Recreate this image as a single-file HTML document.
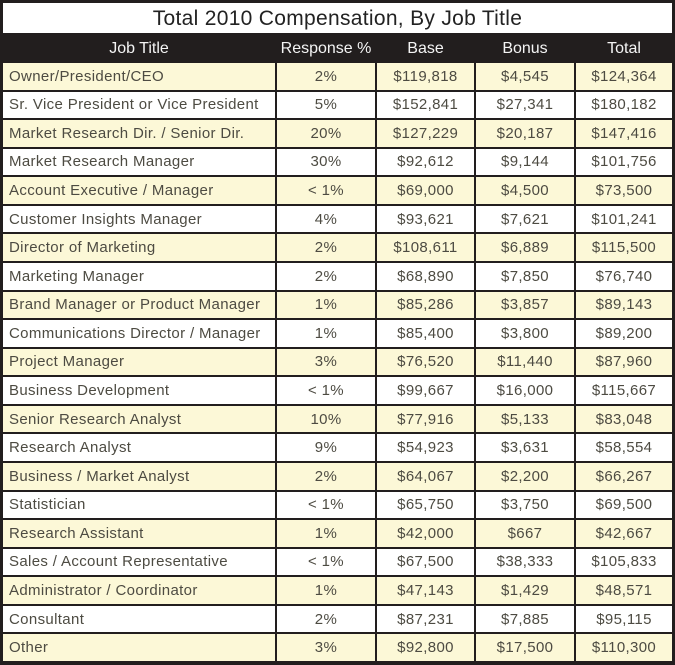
<!DOCTYPE html>
<html>
<head>
<meta charset="utf-8">
<style>
html,body{margin:0;padding:0;}
body{width:675px;height:665px;overflow:hidden;background:#fff;font-family:"Liberation Sans",sans-serif;}
#wrap{position:absolute;left:0;top:0;width:675px;height:665px;background:#221e1e;}
#title{position:absolute;left:3px;top:3px;width:669px;height:30px;background:#fff;text-align:center;font-size:21px;line-height:32px;color:#222;letter-spacing:0.3px;}
#hdr{position:absolute;left:3px;top:33px;width:669px;height:30px;display:grid;grid-template-columns:272px 98px 97px 98px 96px;column-gap:2px;color:#f4f4f4;font-size:16px;line-height:31px;text-align:center;}
#body{position:absolute;left:3px;top:63px;width:669px;height:598px;display:grid;grid-template-columns:272px 98px 97px 98px 96px;grid-template-rows:repeat(21,1fr);column-gap:2px;row-gap:2px;}
#body div{background:#fff;color:#4d4b42;font-size:15px;letter-spacing:0.35px;display:flex;align-items:center;justify-content:center;}
#body div.t{justify-content:flex-start;padding-left:6px;}
#body div.y{background:#fcf8d7;}
</style>
</head>
<body>
<div id="wrap">
<div id="title">Total 2010 Compensation, By Job Title</div>
<div id="hdr"><div>Job Title</div><div>Response %</div><div>Base</div><div>Bonus</div><div>Total</div></div>
<div id="body">
<div class="t y">Owner/President/CEO</div><div class="y">2%</div><div class="y">$119,818</div><div class="y">$4,545</div><div class="y">$124,364</div>
<div class="t">Sr. Vice President or Vice President</div><div>5%</div><div>$152,841</div><div>$27,341</div><div>$180,182</div>
<div class="t y">Market Research Dir. / Senior Dir.</div><div class="y">20%</div><div class="y">$127,229</div><div class="y">$20,187</div><div class="y">$147,416</div>
<div class="t">Market Research Manager</div><div>30%</div><div>$92,612</div><div>$9,144</div><div>$101,756</div>
<div class="t y">Account Executive / Manager</div><div class="y">&lt; 1%</div><div class="y">$69,000</div><div class="y">$4,500</div><div class="y">$73,500</div>
<div class="t">Customer Insights Manager</div><div>4%</div><div>$93,621</div><div>$7,621</div><div>$101,241</div>
<div class="t y">Director of Marketing</div><div class="y">2%</div><div class="y">$108,611</div><div class="y">$6,889</div><div class="y">$115,500</div>
<div class="t">Marketing Manager</div><div>2%</div><div>$68,890</div><div>$7,850</div><div>$76,740</div>
<div class="t y">Brand Manager or Product Manager</div><div class="y">1%</div><div class="y">$85,286</div><div class="y">$3,857</div><div class="y">$89,143</div>
<div class="t">Communications Director / Manager</div><div>1%</div><div>$85,400</div><div>$3,800</div><div>$89,200</div>
<div class="t y">Project Manager</div><div class="y">3%</div><div class="y">$76,520</div><div class="y">$11,440</div><div class="y">$87,960</div>
<div class="t">Business Development</div><div>&lt; 1%</div><div>$99,667</div><div>$16,000</div><div>$115,667</div>
<div class="t y">Senior Research Analyst</div><div class="y">10%</div><div class="y">$77,916</div><div class="y">$5,133</div><div class="y">$83,048</div>
<div class="t">Research Analyst</div><div>9%</div><div>$54,923</div><div>$3,631</div><div>$58,554</div>
<div class="t y">Business / Market Analyst</div><div class="y">2%</div><div class="y">$64,067</div><div class="y">$2,200</div><div class="y">$66,267</div>
<div class="t">Statistician</div><div>&lt; 1%</div><div>$65,750</div><div>$3,750</div><div>$69,500</div>
<div class="t y">Research Assistant</div><div class="y">1%</div><div class="y">$42,000</div><div class="y">$667</div><div class="y">$42,667</div>
<div class="t">Sales / Account Representative</div><div>&lt; 1%</div><div>$67,500</div><div>$38,333</div><div>$105,833</div>
<div class="t y">Administrator / Coordinator</div><div class="y">1%</div><div class="y">$47,143</div><div class="y">$1,429</div><div class="y">$48,571</div>
<div class="t">Consultant</div><div>2%</div><div>$87,231</div><div>$7,885</div><div>$95,115</div>
<div class="t y">Other</div><div class="y">3%</div><div class="y">$92,800</div><div class="y">$17,500</div><div class="y">$110,300</div>
</div>
</div>
</body>
</html>
